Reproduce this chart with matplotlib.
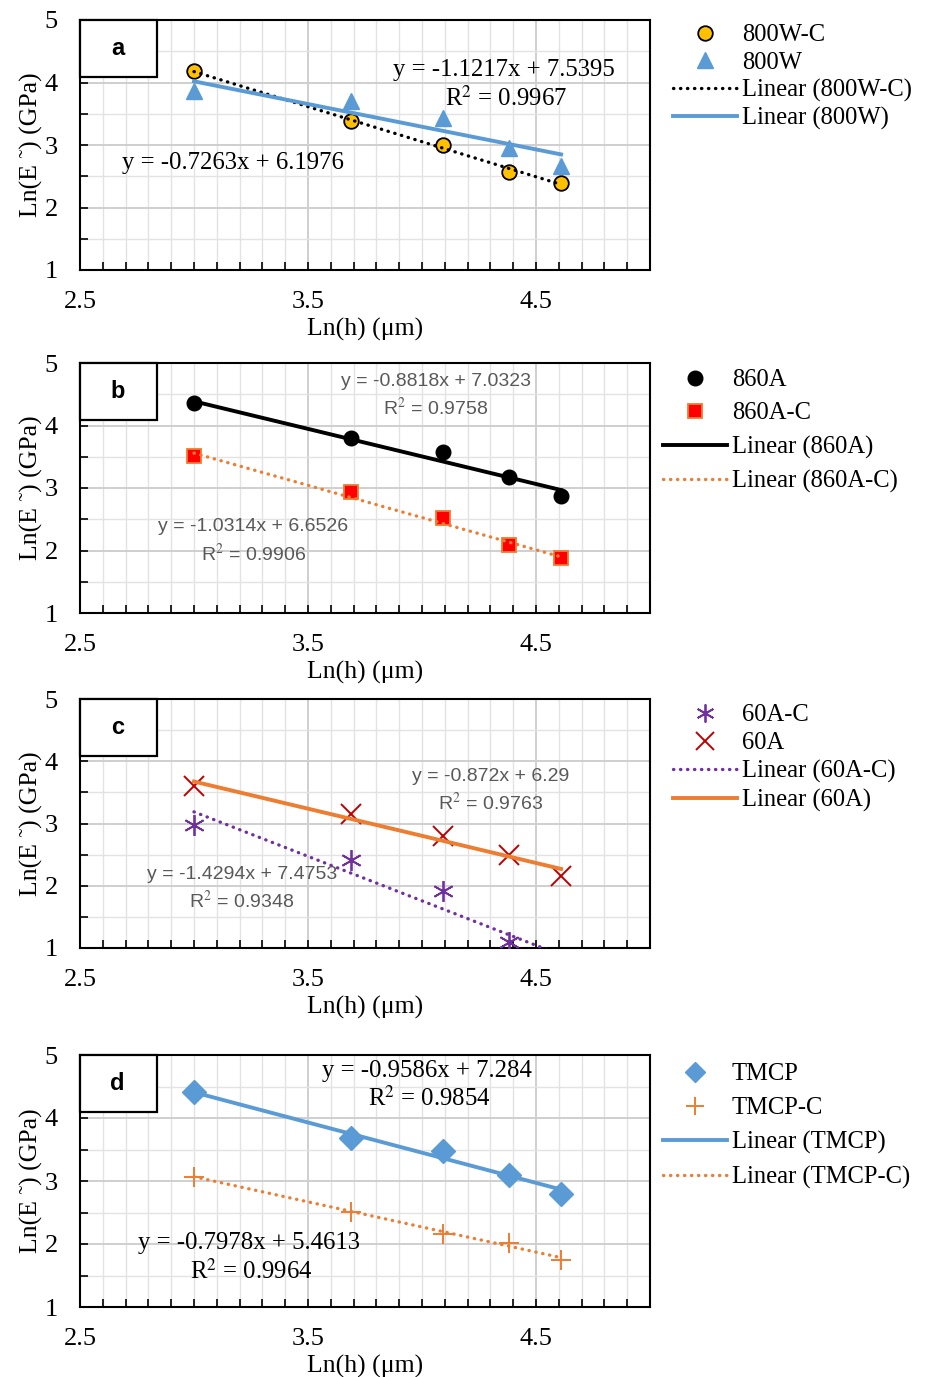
import numpy as np
import matplotlib
matplotlib.use("Agg")
import matplotlib.pyplot as plt
from matplotlib.lines import Line2D
from matplotlib.patches import Rectangle
from matplotlib.ticker import MultipleLocator, FixedLocator

plt.rcParams['font.family'] = ['Liberation Serif', 'DejaVu Serif']
plt.rcParams['mathtext.fontset'] = 'stix'

# ---------------- data ----------------
x_ln_h = [3.00, 3.69, 4.09, 4.38, 4.61]

# panel a
y_800WC = [4.18, 3.39, 3.00, 2.57, 2.40]
y_800W = [3.86, 3.70, 3.43, 2.96, 2.67]
fit_800WC = (-1.1217, 7.5395)
fit_800W = (-0.7263, 6.1976)

# panel b
y_860A = [4.36, 3.80, 3.57, 3.18, 2.88]
y_860AC = [3.52, 2.94, 2.52, 2.09, 1.88]
fit_860A = (-0.8818, 7.0323)
fit_860AC = (-1.0314, 6.6526)

# panel c
y_60AC = [2.97, 2.42, 1.92, 1.10, 0.71]
y_60A = [3.60, 3.15, 2.80, 2.49, 2.15]
fit_60AC = (-1.4294, 7.4753)
fit_60A = (-0.872, 6.29)

# panel d
y_TMCP = [4.41, 3.69, 3.47, 3.09, 2.80]
y_TMCPC = [3.06, 2.51, 2.16, 2.01, 1.75]
fit_TMCP = (-0.9586, 7.284)
fit_TMCPC = (-0.7978, 5.4613)

panel_letters = ['a', 'b', 'c', 'd']
xlabel = 'Ln(h) (μm)'
ylabel = 'Ln(E ˜) (GPa)'

# ---------------- style ----------------
BLUE = '#5B9BD5'
ORANGE = '#ED7D31'
YELLOW = '#FFC000'
PURPLE = '#7030A0'
DKRED = '#C00000'
GRAY_TXT = '#595959'
DOT = (0, (0.1, 2.0))
SANS_NARROW = ['Liberation Sans Narrow', 'Liberation Sans', 'DejaVu Sans']
FS_TICK = 19
FS_LABEL = 18.5
FS_EQ = 17.8
FS_LEG = 17.7

W, H = 930, 1377
fig = plt.figure(figsize=(W / 100, H / 100), dpi=100)

ax_left, ax_right = 80, 650
panel_tb = [(20, 270), (363, 613), (699, 948), (1055, 1307)]
axes = []
for top, bot in panel_tb:
    ax = fig.add_axes([ax_left / W, 1 - bot / H, (ax_right - ax_left) / W, (bot - top) / H])
    axes.append(ax)


def style_axes(ax, letter):
    ax.set_xlim(2.5, 5.0)
    ax.set_ylim(1, 5)
    ax.xaxis.set_major_locator(FixedLocator([2.5, 3.5, 4.5]))
    ax.xaxis.set_minor_locator(MultipleLocator(0.1))
    ax.yaxis.set_major_locator(MultipleLocator(1))
    ax.yaxis.set_minor_locator(MultipleLocator(0.5))
    ax.grid(which='minor', color='#E3E3E3', lw=1.0, zorder=0)
    ax.grid(which='major', color='#CFCFCF', lw=1.4, zorder=0)
    ax.set_axisbelow(True)
    ax.tick_params(which='both', direction='in', length=6, width=1.2, top=False, right=False,
                   labelsize=FS_TICK, colors='black')
    ax.tick_params(axis='x', which='major', pad=15)
    ax.tick_params(axis='y', which='major', pad=16)
    for sp in ax.spines.values():
        sp.set_linewidth(1.5)
        sp.set_color('black')
    ax.set_xlabel(xlabel, fontsize=FS_LABEL, labelpad=4)
    ax.set_ylabel(ylabel, fontsize=FS_LABEL, labelpad=1)
    ax.add_patch(Rectangle((0, 1 - 0.228), 0.135, 0.228, transform=ax.transAxes,
                           facecolor='white', edgecolor='black', lw=1.6, zorder=10, clip_on=False))
    ax.text(0.066, 0.885, letter, transform=ax.transAxes, ha='center', va='center',
            fontsize=17, fontweight='bold', family=['Liberation Sans', 'DejaVu Sans'], zorder=11)


def trend(ax, fit, **kw):
    xs = np.array([x_ln_h[0], x_ln_h[-1]])
    ax.plot(xs, fit[0] * xs + fit[1], zorder=4, **kw)


def add_legend(ax, handles, labels, left_px, top_px, spacing):
    fig.legend(handles, labels, loc='upper left',
               bbox_to_anchor=(left_px / W, 1 - top_px / H), bbox_transform=fig.transFigure,
               frameon=False, fontsize=FS_LEG, handlelength=2.6, handletextpad=0.2,
               borderpad=0, borderaxespad=0, labelspacing=spacing)


def eq_text(fit):
    a, b = fit
    return f"y = {a:g}x + {b:g}"


# ---------- panel a ----------
ax = axes[0]
style_axes(ax, panel_letters[0])
ax.plot(x_ln_h, y_800W, linestyle='none', marker='^', ms=12, color=BLUE, zorder=3)
ax.plot(x_ln_h, y_800WC, linestyle='none', marker='o', ms=10.5, mfc=YELLOW, mec='black', mew=1.3, zorder=3)
trend(ax, fit_800WC, color='black', lw=2.4, linestyle=DOT, dash_capstyle='round')
trend(ax, fit_800W, color=BLUE, lw=2.8)
ax.text(4.36, 4.20, eq_text(fit_800WC), ha='center', va='center', fontsize=FS_EQ)
ax.text(4.37, 3.75, 'R$^2$ = 0.9967', ha='center', va='center', fontsize=FS_EQ)
ax.text(3.17, 2.72, eq_text(fit_800W), ha='center', va='center', fontsize=FS_EQ)
h = [Line2D([], [], ls='none', marker='o', ms=10.5, mfc=YELLOW, mec='black', mew=1.3),
     Line2D([], [], ls='none', marker='^', ms=12, color=BLUE),
     Line2D([], [], color='black', lw=2.4, ls=DOT, dash_capstyle='round'),
     Line2D([], [], color=BLUE, lw=2.8)]
add_legend(ax, h, ['800W-C', '800W', 'Linear (800W-C)', 'Linear (800W)'], 673, 24, 0.21)

# ---------- panel b ----------
ax = axes[1]
style_axes(ax, panel_letters[1])
ax.plot(x_ln_h, y_860A, linestyle='none', marker='o', ms=10.5, color='black', zorder=3)
ax.plot(x_ln_h, y_860AC, linestyle='none', marker='s', ms=9.5, mfc='#FF0000', mec=ORANGE, mew=1.3, zorder=3)
trend(ax, fit_860A, color='black', lw=2.8)
trend(ax, fit_860AC, color=ORANGE, lw=2.4, linestyle=DOT, dash_capstyle='round')
ax.text(4.06, 4.70, eq_text(fit_860A), ha='center', va='center', fontsize=14, color=GRAY_TXT, family=SANS_NARROW)
ax.text(4.06, 4.28, 'R$^2$ = 0.9758', ha='center', va='center', fontsize=14, color=GRAY_TXT, family=SANS_NARROW)
ax.text(3.26, 2.38, eq_text(fit_860AC), ha='center', va='center', fontsize=14, color=GRAY_TXT, family=SANS_NARROW)
ax.text(3.26, 1.95, 'R$^2$ = 0.9906', ha='center', va='center', fontsize=14, color=GRAY_TXT, family=SANS_NARROW)
h = [Line2D([], [], ls='none', marker='o', ms=10.5, color='black'),
     Line2D([], [], ls='none', marker='s', ms=9.5, mfc='#FF0000', mec=ORANGE, mew=1.3),
     Line2D([], [], color='black', lw=2.8),
     Line2D([], [], color=ORANGE, lw=2.4, ls=DOT, dash_capstyle='round')]
add_legend(ax, h, ['860A', '860A-C', 'Linear (860A)', 'Linear (860A-C)'], 663, 369, 0.45)

# ---------- panel c ----------
ax = axes[2]
style_axes(ax, panel_letters[2])
ax.plot(x_ln_h, y_60AC, linestyle='none', marker=(6, 2, 0), ms=15, color=PURPLE, mew=1.3, zorder=3)
ax.plot(x_ln_h, y_60A, linestyle='none', marker='x', ms=15, color=DKRED, mew=1.4, zorder=3)
trend(ax, fit_60AC, color=PURPLE, lw=2.4, linestyle=DOT, dash_capstyle='round')
trend(ax, fit_60A, color=ORANGE, lw=2.8)
ax.text(4.30, 3.75, eq_text(fit_60A), ha='center', va='center', fontsize=14, color=GRAY_TXT, family=SANS_NARROW)
ax.text(4.30, 3.33, 'R$^2$ = 0.9763', ha='center', va='center', fontsize=14, color=GRAY_TXT, family=SANS_NARROW)
ax.text(3.21, 2.18, eq_text(fit_60AC), ha='center', va='center', fontsize=14, color=GRAY_TXT, family=SANS_NARROW)
ax.text(3.21, 1.76, 'R$^2$ = 0.9348', ha='center', va='center', fontsize=14, color=GRAY_TXT, family=SANS_NARROW)
h = [Line2D([], [], ls='none', marker=(6, 2, 0), ms=13, color=PURPLE, mew=1.3),
     Line2D([], [], ls='none', marker='x', ms=13, color=DKRED, mew=1.4),
     Line2D([], [], color=PURPLE, lw=2.4, ls=DOT, dash_capstyle='round'),
     Line2D([], [], color=ORANGE, lw=2.8)]
add_legend(ax, h, ['60A-C', '60A', 'Linear (60A-C)', 'Linear (60A)'], 673, 704, 0.24)

# ---------- panel d ----------
ax = axes[3]
style_axes(ax, panel_letters[3])
ax.plot(x_ln_h, y_TMCP, linestyle='none', marker='D', ms=12, color=BLUE, zorder=3)
ax.plot(x_ln_h, y_TMCPC, linestyle='none', marker='+', ms=15, color=ORANGE, mew=1.4, zorder=3)
trend(ax, fit_TMCP, color=BLUE, lw=2.8)
trend(ax, fit_TMCPC, color=ORANGE, lw=2.4, linestyle=DOT, dash_capstyle='round')
ax.text(4.02, 4.75, eq_text(fit_TMCP), ha='center', va='center', fontsize=FS_EQ)
ax.text(4.03, 4.31, 'R$^2$ = 0.9854', ha='center', va='center', fontsize=FS_EQ)
ax.text(3.24, 2.01, eq_text(fit_TMCPC), ha='center', va='center', fontsize=FS_EQ)
ax.text(3.25, 1.57, 'R$^2$ = 0.9964', ha='center', va='center', fontsize=FS_EQ)
h = [Line2D([], [], ls='none', marker='D', ms=10, color=BLUE),
     Line2D([], [], ls='none', marker='+', ms=13, color=ORANGE, mew=1.4),
     Line2D([], [], color=BLUE, lw=2.8),
     Line2D([], [], color=ORANGE, lw=2.4, ls=DOT, dash_capstyle='round')]
add_legend(ax, h, ['TMCP', 'TMCP-C', 'Linear (TMCP)', 'Linear (TMCP-C)'], 663, 1063, 0.48)

fig.savefig('out.png', dpi=100, facecolor='white')
